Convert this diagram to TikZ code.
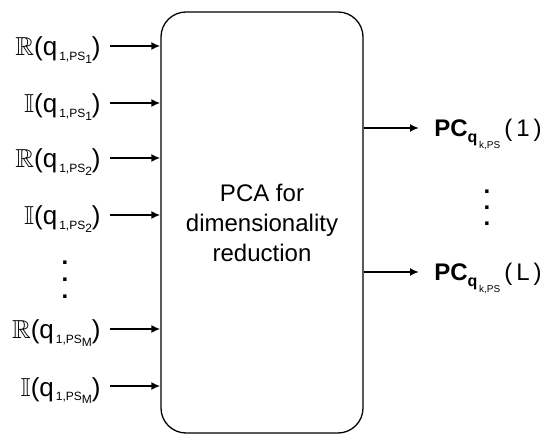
\documentclass[tikz,border=0pt]{standalone}
\usepackage{amsmath}
\usepackage{amssymb}
\usepackage{fontspec}
\setmainfont{Liberation Sans}
\usetikzlibrary{arrows.meta}
\newcommand{\qidx}[1]{q\raisebox{-2.2pt}{\fontsize{6}{6}\selectfont\,1,PS\raisebox{-1.6pt}{#1}}}
\newcommand{\pcq}[1]{\textbf{PC}\raisebox{-3pt}{\fontsize{8}{8}\selectfont\bfseries q\raisebox{-2.7pt}{\mdseries\fontsize{5}{5}\selectfont\,k,PS}}\,(\,#1\,)}
\tikzset{
  pcabox/.style={draw, rounded corners=12.5pt, line width=0.65pt,
                 minimum width=101pt, minimum height=210.5pt,
                 align=center, font=\fontsize{12}{15}\selectfont, inner sep=0pt},
  inlabel/.style={anchor=base east, inner sep=0pt, font=\fontsize{13}{15}\selectfont},
  outlabel/.style={anchor=base west, inner sep=0pt, font=\fontsize{12}{14}\selectfont},
  feed/.style={-{Latex[length=4.5pt,width=4pt]}, line width=0.9pt},
  dot/.style={inner sep=0pt, font=\bfseries\fontsize{12}{12}\selectfont},
}

\begin{document}
\begin{tikzpicture}[x=0.5pt, y=-0.5pt]
    \useasboundingbox (0,0) rectangle (550,442);
    \node[pcabox] (box) at (262, 222.5) {PCA for\\dimensionality\\reduction};
    % inputs
    \node[inlabel] (in1) at (101, 56) {\(\mathbb{R}\)(\qidx{1})};
    \node[inlabel] (in2) at (101, 113) {\(\mathbb{I}\)(\qidx{1})};
    \node[inlabel] (in3) at (101, 168) {\(\mathbb{R}\)(\qidx{2})};
    \node[inlabel] (in4) at (101, 225) {\(\mathbb{I}\)(\qidx{2})};
    \node[inlabel] (in5) at (101, 339) {\(\mathbb{R}\)(\qidx{M})};
    \node[inlabel] (in6) at (101, 396) {\(\mathbb{I}\)(\qidx{M})};
    \node[dot] (vdl1) at (65, 263) {.};
    \node[dot] (vdl2) at (65, 280) {.};
    \node[dot] (vdl3) at (65, 297) {.};
    \coordinate (a1) at (110, 46);
    \coordinate (a2) at (110, 103);
    \coordinate (a3) at (110, 158);
    \coordinate (a4) at (110, 215);
    \coordinate (a5) at (110, 329);
    \coordinate (a6) at (110, 386);
    \draw[feed] (a1) -- (a1 -| box.west);
    \draw[feed] (a2) -- (a2 -| box.west);
    \draw[feed] (a3) -- (a3 -| box.west);
    \draw[feed] (a4) -- (a4 -| box.west);
    \draw[feed] (a5) -- (a5 -| box.west);
    \draw[feed] (a6) -- (a6 -| box.west);
    % outputs
    \coordinate (b1) at (419, 128);
    \coordinate (b2) at (419, 272);
    \draw[feed] (b1 -| box.east) -- (b1);
    \draw[feed] (b2 -| box.east) -- (b2);
    \node[outlabel] (out1) at (434, 137) {\pcq{1}};
    \node[outlabel] (out2) at (434, 281) {\pcq{L}};
    \node[dot] (vdr1) at (487, 192) {.};
    \node[dot] (vdr2) at (487, 208) {.};
    \node[dot] (vdr3) at (487, 224) {.};
  \end{tikzpicture}
\end{document}
